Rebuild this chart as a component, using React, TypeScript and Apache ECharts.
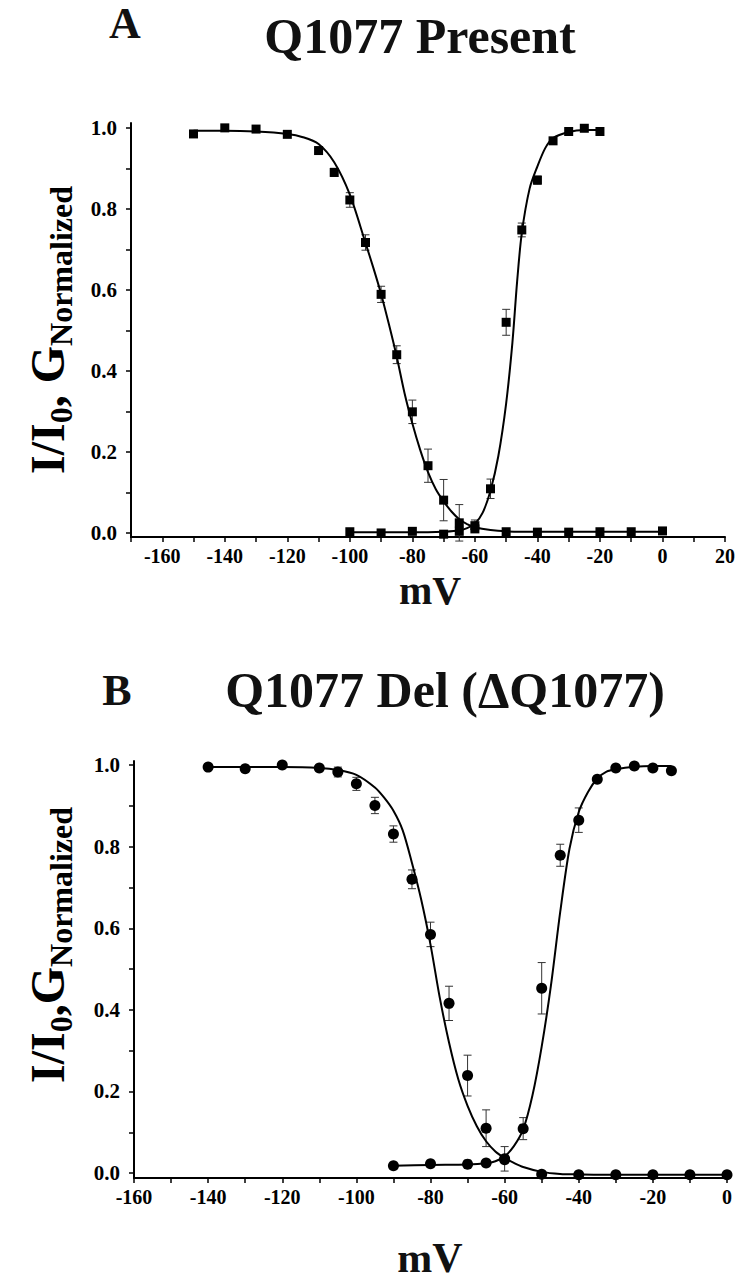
import React, { useEffect, useRef } from "react";
import * as echarts from "echarts";

// ---------- Panel A data (Q1077 Present) ----------
const vInA = [-150, -140, -130, -120, -110, -105, -100, -95, -90, -85, -80, -75, -70, -65, -60, -50, -40, -30, -20, -10, 0];
const inA = [0.985, 1.0, 0.997, 0.984, 0.944, 0.89, 0.822, 0.717, 0.589, 0.44, 0.299, 0.166, 0.081, 0.025, 0.018, 0.003, 0.002, 0.002, 0.003, 0.003, 0.005];
const inAErr = [0, 0, 0, 0, 0.006, 0.01, 0.018, 0.019, 0.02, 0.022, 0.029, 0.041, 0.051, 0.045, 0.014, 0, 0, 0, 0, 0, 0];

const vAcA = [-100, -90, -80, -70, -65, -60, -55, -50, -45, -40, -35, -30, -25, -20];
const acA = [0.003, 0.0, 0.004, -0.003, 0.004, 0.01, 0.109, 0.52, 0.748, 0.871, 0.968, 0.991, 0.999, 0.991];
const acAErr = [0, 0, 0, 0, 0, 0, 0.024, 0.032, 0.017, 0.01, 0, 0, 0, 0];

const fitInAx = [-150, -140, -130, -120, -115, -110, -105, -100, -95, -92.5, -90, -87.5, -85, -82.5, -80, -77.5, -75, -72.5, -70, -67.5, -65, -62.5, -60, -55, -50, -40, -30, -20, -10, 0];
const fitInAy = [0.993, 0.993, 0.991, 0.985, 0.977, 0.96, 0.915, 0.835, 0.716, 0.655, 0.59, 0.515, 0.435, 0.345, 0.27, 0.205, 0.15, 0.108, 0.078, 0.053, 0.034, 0.022, 0.014, 0.007, 0.004, 0.003, 0.003, 0.003, 0.003, 0.003];

const fitAcAx = [-100, -90, -80, -75, -70, -65, -62.5, -60, -57.5, -55, -52.5, -50, -48, -46.5, -45, -42.5, -40, -37.5, -35, -30, -25, -20];
const fitAcAy = [0.002, 0.002, 0.002, 0.002, 0.003, 0.006, 0.012, 0.023, 0.05, 0.105, 0.19, 0.32, 0.47, 0.62, 0.74, 0.85, 0.905, 0.95, 0.975, 0.99, 0.995, 0.995];

// ---------- Panel B data (Q1077 Del) ----------
const vInB = [-140, -130, -120, -110, -105, -100, -95, -90, -85, -80, -75, -70, -65, -60, -50, -40, -30, -20, -10, 0];
const inB = [0.995, 0.991, 1.0, 0.993, 0.983, 0.954, 0.901, 0.831, 0.72, 0.585, 0.416, 0.239, 0.11, 0.035, -0.003, -0.004, -0.004, -0.004, -0.004, -0.004];
const inBErr = [0, 0, 0, 0, 0.012, 0.016, 0.02, 0.02, 0.023, 0.03, 0.042, 0.05, 0.045, 0.03, 0, 0, 0, 0, 0, 0];

const vAcB = [-90, -80, -70, -65, -60, -55, -50, -45, -40, -35, -30, -25, -20, -15];
const acB = [0.018, 0.023, 0.022, 0.025, 0.033, 0.109, 0.453, 0.779, 0.865, 0.965, 0.993, 0.998, 0.993, 0.986];
const acBErr = [0, 0, 0, 0, 0, 0.027, 0.063, 0.027, 0.03, 0, 0, 0, 0, 0];

const fitInBx = [-140, -130, -120, -110, -105, -100, -95, -92.5, -90, -87.5, -85, -82.5, -80, -77.5, -75, -72.5, -70, -67.5, -65, -62.5, -60, -57.5, -55, -50, -45, -40, -30, -20, -10, 0];
const fitInBy = [0.995, 0.995, 0.995, 0.993, 0.988, 0.976, 0.945, 0.92, 0.888, 0.84, 0.76, 0.67, 0.56, 0.43, 0.32, 0.23, 0.165, 0.115, 0.078, 0.053, 0.037, 0.025, 0.015, 0.003, -0.002, -0.003, -0.004, -0.004, -0.004, -0.004];

const fitAcBx = [-90, -80, -70, -65, -62.5, -60, -57.5, -55, -52.5, -50, -47.5, -45, -42.5, -40, -37.5, -35, -32.5, -30, -25, -20, -15];
const fitAcBy = [0.018, 0.02, 0.021, 0.024, 0.029, 0.041, 0.066, 0.107, 0.19, 0.31, 0.46, 0.64, 0.795, 0.885, 0.934, 0.967, 0.984, 0.99, 0.996, 0.998, 0.998];

// ---------- Ticks ----------
const xLabelsA = [-160, -140, -120, -100, -80, -60, -40, -20, 0, 20];
const xTicksA = [-170, -160, -150, -140, -130, -120, -110, -100, -90, -80, -70, -60, -50, -40, -30, -20, -10, 0, 10, 20];
const xLabelsB = [-160, -140, -120, -100, -80, -60, -40, -20, 0];
const xTicksB = [-160, -150, -140, -130, -120, -110, -100, -90, -80, -70, -60, -50, -40, -30, -20, -10, 0];
const yLabels = [0, 0.2, 0.4, 0.6, 0.8, 1.0];
const yTicks = [0, 0.1, 0.2, 0.3, 0.4, 0.5, 0.6, 0.7, 0.8, 0.9, 1.0];

const FONT = "Liberation Serif";

const zip = (xs: number[], ys: number[]) => xs.map((x, i) => [x, ys[i]]);
const errData = (xs: number[], ys: number[], es: number[]) =>
  xs.map((x, i) => [x, ys[i] - es[i], ys[i] + es[i], es[i]]).filter((d) => d[3] > 0);

const errorRender = (params: any, api: any) => {
  const x = api.value(0);
  const lo = api.coord([x, api.value(1)]);
  const hi = api.coord([x, api.value(2)]);
  const w = 4;
  const st = { stroke: "#333", lineWidth: 1 };
  return {
    type: "group",
    children: [
      { type: "line", shape: { x1: lo[0], y1: lo[1], x2: hi[0], y2: hi[1] }, style: st },
      { type: "line", shape: { x1: hi[0] - w, y1: hi[1], x2: hi[0] + w, y2: hi[1] }, style: st },
      { type: "line", shape: { x1: lo[0] - w, y1: lo[1], x2: lo[0] + w, y2: lo[1] }, style: st },
    ],
  };
};

function makeXAxis(gridIndex: number, min: number, max: number, labels: number[], ticks: number[]) {
  return {
    type: "value",
    gridIndex,
    min,
    max,
    axisLine: { show: true, onZero: false, lineStyle: { color: "#000", width: 2 } },
    axisTick: { show: true, customValues: ticks, length: 5, lineStyle: { color: "#000", width: 1.5 } },
    axisLabel: {
      customValues: labels,
      color: "#000",
      fontFamily: FONT,
      fontWeight: "bold",
      fontSize: 20,
      margin: 9,
    },
    splitLine: { show: false },
  };
}

function makeYAxis(gridIndex: number, min: number, max: number) {
  return {
    type: "value",
    gridIndex,
    min,
    max,
    axisLine: { show: true, onZero: false, lineStyle: { color: "#000", width: 2 } },
    axisTick: { show: true, customValues: yTicks, length: 5, lineStyle: { color: "#000", width: 1.5 } },
    axisLabel: {
      customValues: yLabels,
      formatter: (v: number) => v.toFixed(1),
      color: "#000",
      fontFamily: FONT,
      fontWeight: "bold",
      fontSize: 21,
      margin: 14,
    },
    splitLine: { show: false },
  };
}

function lineSeries(idx: number, xs: number[], ys: number[]) {
  return {
    type: "line",
    xAxisIndex: idx,
    yAxisIndex: idx,
    data: zip(xs, ys),
    showSymbol: false,
    symbol: "none",
    smooth: 0.3,
    lineStyle: { color: "#000", width: 2 },
    z: 3,
  };
}

function scatterSeries(idx: number, xs: number[], ys: number[], symbol: string, size: number) {
  return {
    type: "scatter",
    xAxisIndex: idx,
    yAxisIndex: idx,
    data: zip(xs, ys),
    symbol,
    symbolSize: size,
    itemStyle: { color: "#000", opacity: 1 },
    z: 4,
  };
}

function errSeries(idx: number, xs: number[], ys: number[], es: number[]) {
  return {
    type: "custom",
    xAxisIndex: idx,
    yAxisIndex: idx,
    data: errData(xs, ys, es),
    encode: { x: 0, y: [1, 2] },
    renderItem: errorRender,
    z: 2,
  };
}

const titleText = (text: string, x: number, y: number, size: number) => ({
  type: "text",
  x,
  y,
  style: {
    text,
    fill: "#111",
    fontFamily: FONT,
    fontWeight: "bold",
    fontSize: size,
    align: "center",
    verticalAlign: "middle",
  },
});

const yTitle = (text: string, x: number, y: number) => ({
  type: "text",
  x,
  y,
  rotation: Math.PI / 2,
  style: {
    text,
    align: "center",
    verticalAlign: "middle",
    fill: "#000",
    fontFamily: FONT,
    fontWeight: "bold",
    rich: {
      m: { fontSize: 48, fontWeight: "bold", fontFamily: FONT, lineHeight: 50, verticalAlign: "top", fill: "#000" },
      s: { fontSize: 32, fontWeight: "bold", fontFamily: FONT, lineHeight: 34, verticalAlign: "top", padding: [22, 0, 0, 0], fill: "#000" },
    },
  },
});

export default function App() {
  const ref = useRef<HTMLDivElement>(null);
  useEffect(() => {
    document.body.style.margin = "0";
    const chart = echarts.init(ref.current!, null, { renderer: "svg" });
    chart.setOption({
      animation: false,
      backgroundColor: "#fff",
      grid: [
        { left: 131, top: 123, width: 594, height: 414 },
        { left: 134, top: 761, width: 593, height: 417 },
      ],
      xAxis: [makeXAxis(0, -170, 20, xLabelsA, xTicksA), makeXAxis(1, -160, 0, xLabelsB, xTicksB)],
      yAxis: [makeYAxis(0, -0.01, 1.012), makeYAxis(1, -0.012, 1.01)],
      series: [
        errSeries(0, vInA, inA, inAErr),
        errSeries(0, vAcA, acA, acAErr),
        lineSeries(0, fitInAx, fitInAy),
        lineSeries(0, fitAcAx, fitAcAy),
        scatterSeries(0, vInA, inA, "rect", 9),
        scatterSeries(0, vAcA, acA, "rect", 9),
        errSeries(1, vInB, inB, inBErr),
        errSeries(1, vAcB, acB, acBErr),
        lineSeries(1, fitInBx, fitInBy),
        lineSeries(1, fitAcBx, fitAcBy),
        scatterSeries(1, vInB, inB, "circle", 11),
        scatterSeries(1, vAcB, acB, "circle", 11),
      ],
      graphic: [
        titleText("A", 125, 23, 44),
        titleText("Q1077 Present", 420, 36, 50),
        titleText("mV", 430, 590, 40),
        yTitle("{m|I/I}{s|0}{m|, G}{s|Normalized}", 48, 330),
        titleText("B", 117, 690, 44),
        titleText("Q1077 Del (ΔQ1077)", 445, 690, 50),
        titleText("mV", 430, 1258, 42),
        yTitle("{m|I/I}{s|0}{m|,G}{s|Normalized}", 48, 945),
      ],
    });
    return () => chart.dispose();
  }, []);
  return <div ref={ref} style={{ width: 742, height: 1281 }} />;
}
